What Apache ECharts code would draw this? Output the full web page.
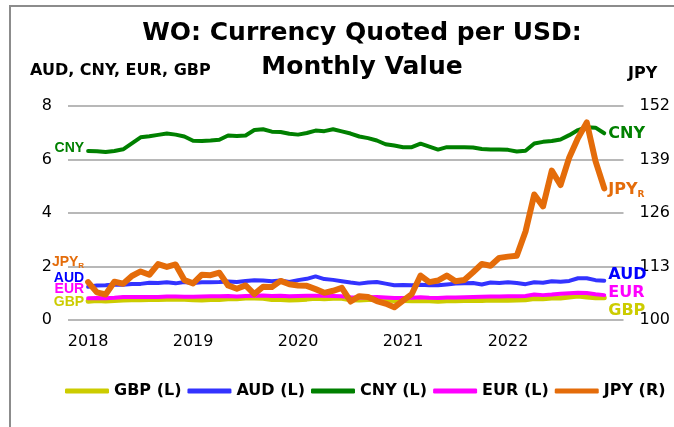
<!DOCTYPE html>
<html>
<head>
<meta charset="utf-8">
<script src="https://cdn.jsdelivr.net/npm/echarts@6/dist/echarts.min.js"></script>
<style>
  html, body { margin: 0; padding: 0; background: #fff; }
  #chart { width: 674px; height: 427px; }
</style>
</head>
<body>
<div id="chart"></div>
<script>
// month-end values, Jan 2018 .. Dec 2022 (index 0 = Jan 2018)
const yearLabels = ['2018', '2019', '2020', '2021', '2022'];
const yearTicks = [0, 12, 24, 36, 48];

const gbp = [0.70, 0.73, 0.71, 0.73, 0.75, 0.76, 0.76, 0.77, 0.77, 0.78, 0.78, 0.78,
             0.76, 0.75, 0.77, 0.77, 0.79, 0.79, 0.82, 0.82, 0.81, 0.77, 0.77, 0.75,
             0.76, 0.78, 0.81, 0.79, 0.81, 0.81, 0.76, 0.75, 0.77, 0.77, 0.75, 0.73,
             0.73, 0.72, 0.73, 0.72, 0.70, 0.72, 0.72, 0.73, 0.74, 0.73, 0.75, 0.74,
             0.74, 0.75, 0.76, 0.80, 0.79, 0.82, 0.82, 0.86, 0.90, 0.86, 0.83, 0.83];
const aud = [1.24, 1.29, 1.30, 1.33, 1.32, 1.35, 1.35, 1.39, 1.38, 1.41, 1.37, 1.42,
             1.38, 1.41, 1.41, 1.42, 1.44, 1.42, 1.46, 1.49, 1.48, 1.45, 1.48, 1.42,
             1.49, 1.54, 1.63, 1.53, 1.50, 1.45, 1.40, 1.36, 1.40, 1.42, 1.36, 1.30,
             1.31, 1.30, 1.32, 1.30, 1.30, 1.33, 1.36, 1.37, 1.38, 1.33, 1.40, 1.38,
             1.41, 1.38, 1.34, 1.41, 1.39, 1.45, 1.43, 1.46, 1.56, 1.56, 1.49, 1.47];
const cny = [6.32, 6.31, 6.28, 6.32, 6.38, 6.60, 6.83, 6.87, 6.92, 6.97, 6.93, 6.86,
             6.70, 6.69, 6.71, 6.74, 6.90, 6.88, 6.90, 7.10, 7.13, 7.04, 7.03, 6.96,
             6.93, 6.99, 7.08, 7.06, 7.13, 7.05, 6.97, 6.86, 6.80, 6.71, 6.57, 6.52,
             6.46, 6.46, 6.59, 6.48, 6.37, 6.46, 6.46, 6.46, 6.45, 6.39, 6.37, 6.37,
             6.36, 6.30, 6.33, 6.60, 6.66, 6.69, 6.75, 6.91, 7.10, 7.21, 7.19, 6.98];
const eur = [0.81, 0.82, 0.81, 0.83, 0.86, 0.86, 0.86, 0.86, 0.86, 0.88, 0.88, 0.87,
             0.87, 0.88, 0.89, 0.89, 0.90, 0.88, 0.90, 0.91, 0.92, 0.90, 0.91, 0.89,
             0.90, 0.91, 0.91, 0.91, 0.90, 0.89, 0.85, 0.84, 0.85, 0.86, 0.84, 0.82,
             0.82, 0.83, 0.85, 0.83, 0.82, 0.84, 0.84, 0.85, 0.86, 0.87, 0.88, 0.88,
             0.89, 0.89, 0.90, 0.95, 0.93, 0.95, 0.98, 1.00, 1.02, 1.01, 0.96, 0.93];
const jpy = [109.2, 106.7, 106.2, 109.3, 108.8, 110.7, 111.8, 111.0, 113.6, 112.9, 113.5, 109.7,
             108.9, 111.0, 110.9, 111.5, 108.4, 107.6, 108.4, 106.3, 108.1, 108.0, 109.5, 108.7,
             108.4, 108.3, 107.5, 106.6, 107.1, 107.8, 104.5, 105.8, 105.6, 104.6, 104.0, 103.1,
             104.7, 106.3, 110.8, 109.2, 109.6, 110.8, 109.4, 109.7, 111.6, 113.6, 113.2, 115.1,
             115.4, 115.6, 121.5, 130.5, 127.6, 136.3, 132.8, 139.5, 144.2, 148.0, 138.6, 132.0];

const colors = {
  gbp: '#cccc00',
  aud: '#3333ff',
  cny: '#008000',
  eur: '#ff00ff',
  jpy: '#e46c0a'
};

const baseFont = 'DejaVu Sans';
const smallFont = 'Liberation Sans';

function points(values, startLabel) {
  return values.map(function (v, i) {
    if (i === 0) {
      return { value: [i, v], label: startLabel };
    }
    return [i, v];
  });
}

function startLabel(text, color, dy) {
  return {
    show: true,
    position: 'left',
    distance: 4,
    offset: [0, dy],
    formatter: text,
    color: color,
    fontFamily: smallFont,
    fontWeight: 'bold',
    fontSize: 14
  };
}

function endLabel(text, color, dy) {
  return {
    show: true,
    formatter: text,
    distance: 4,
    offset: [0, dy],
    color: color,
    fontFamily: baseFont,
    fontWeight: 'bold',
    fontSize: 16
  };
}

function lineSeries(name, values, color, width, yAxisIndex, sLabel, eLabel) {
  return {
    name: name,
    type: 'line',
    yAxisIndex: yAxisIndex,
    data: points(values, sLabel),
    symbol: 'circle',
    symbolSize: 0,
    showSymbol: true,
    lineStyle: { color: color, width: width, cap: 'round', join: 'round' },
    itemStyle: { color: color },
    label: { show: false },
    endLabel: eLabel,
    emphasis: { disabled: true }
  };
}

const jpyStart = startLabel('{a|JPY}{b|R}', colors.jpy, -20);
jpyStart.rich = {
  a: { fontFamily: smallFont, fontWeight: 'bold', fontSize: 14, color: colors.jpy, lineHeight: 16 },
  b: { fontFamily: smallFont, fontWeight: 'bold', fontSize: 8, color: colors.jpy, lineHeight: 10, padding: [8, 0, 0, 0], verticalAlign: 'top' }
};
const jpyEnd = endLabel('{a|JPY}{b|R}', colors.jpy, 2);
jpyEnd.rich = {
  a: { fontFamily: baseFont, fontWeight: 'bold', fontSize: 16, color: colors.jpy, lineHeight: 20 },
  b: { fontFamily: baseFont, fontWeight: 'bold', fontSize: 9, color: colors.jpy, lineHeight: 12, padding: [10, 0, 0, 0], verticalAlign: 'top' }
};

const chart = echarts.init(document.getElementById('chart'), null, { renderer: 'canvas' });

const option = {
  animation: false,
  backgroundColor: '#fff',
  title: {
    text: 'WO: Currency Quoted per USD:\nMonthly Value',
    left: 357,
    top: 11,
    textAlign: 'center',
    textStyle: {
      fontFamily: baseFont,
      fontWeight: 'bold',
      fontSize: 25,
      lineHeight: 34,
      color: '#000'
    }
  },
  graphic: [
    {
      type: 'polyline',
      shape: { points: [[10, 427], [10, 6], [674, 6]] },
      style: { stroke: '#8c8c8c', lineWidth: 2, fill: null },
      silent: true
    },
    {
      type: 'text',
      left: 30,
      top: 63,
      style: { text: 'AUD, CNY, EUR, GBP', fontFamily: baseFont, fontWeight: 'bold', fontSize: 16, fill: '#000' }
    },
    {
      type: 'text',
      left: 628,
      top: 66,
      style: { text: 'JPY', fontFamily: baseFont, fontWeight: 'bold', fontSize: 16, fill: '#000' }
    }
  ],
  legend: {
    left: 60,
    top: 378,
    icon: 'roundRect',
    itemWidth: 44,
    itemHeight: 5,
    itemGap: 6,
    selectedMode: false,
    textStyle: { fontFamily: baseFont, fontWeight: 'bold', fontSize: 16, color: '#000' },
    data: ['GBP (L)', 'AUD (L)', 'CNY (L)', 'EUR (L)', 'JPY (R)']
  },
  grid: { left: 68, right: 50.5, top: 106, bottom: 107, containLabel: false },
  xAxis: {
    type: 'value',
    min: -2.3,
    max: 61.2,
    axisLine: { show: false },
    axisTick: { show: false },
    splitLine: { show: false },
    axisLabel: {
      customValues: yearTicks,
      margin: 14,
      fontFamily: baseFont,
      fontSize: 16,
      color: '#000',
      formatter: function (v) { return yearLabels[yearTicks.indexOf(Math.round(v))] || ''; }
    }
  },
  yAxis: [
    {
      type: 'value',
      min: 0,
      max: 8,
      interval: 2,
      axisLine: { show: false },
      axisTick: { show: false },
      splitLine: { show: true, lineStyle: { color: '#a0a0a0', width: 1.5 } },
      axisLabel: { margin: 16, fontFamily: baseFont, fontSize: 16, color: '#000' }
    },
    {
      type: 'value',
      min: 100,
      max: 152,
      interval: 13,
      position: 'right',
      axisLine: { show: false },
      axisTick: { show: false },
      splitLine: { show: false },
      axisLabel: { margin: 16, fontFamily: baseFont, fontSize: 16, color: '#000' }
    }
  ],
  series: [
    lineSeries('GBP (L)', gbp, colors.gbp, 5, 0, startLabel('GBP', colors.gbp, 1), endLabel('GBP', colors.gbp, 13)),
    lineSeries('AUD (L)', aud, colors.aud, 4, 0, startLabel('AUD', '#0000ff', -9), endLabel('AUD', '#0000ff', -6)),
    lineSeries('CNY (L)', cny, colors.cny, 4, 0, startLabel('CNY', colors.cny, -3), endLabel('CNY', colors.cny, 1)),
    lineSeries('EUR (L)', eur, colors.eur, 4, 0, startLabel('EUR', colors.eur, -9), endLabel('EUR', colors.eur, -2)),
    lineSeries('JPY (R)', jpy, colors.jpy, 6, 1, jpyStart, jpyEnd)
  ]
};

chart.setOption(option);
</script>
</body>
</html>
